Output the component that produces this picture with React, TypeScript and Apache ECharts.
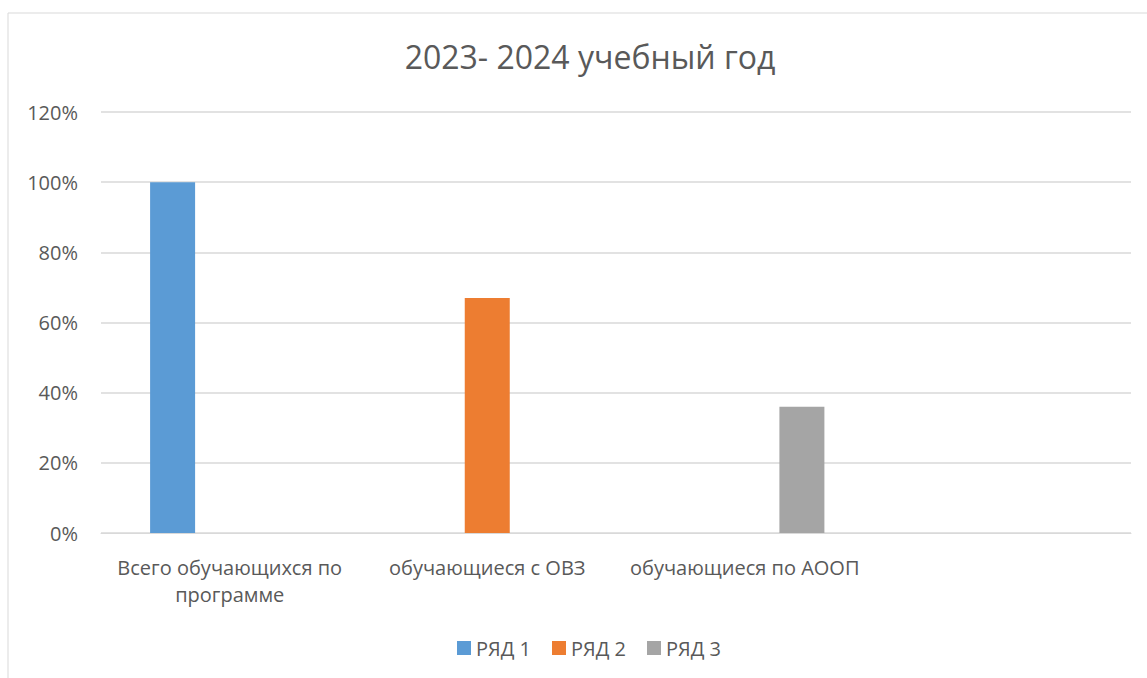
import React, { useEffect, useRef } from "react";
import * as echarts from "echarts";

const titleText = "2023- 2024 учебный год";
const categories = ["Всего обучающихся по\nпрограмме", "обучающиеся с ОВЗ", "обучающиеся по АООП", ""];
const seriesNames = ["РЯД 1", "РЯД 2", "РЯД 3"];
const series1 = [100, null, null, null];
const series2 = [null, 67, null, null];
const series3 = [null, null, 36, null];
const colors = ["#5b9bd5", "#ed7d31", "#a5a5a5"];
const yTicks = { min: 0, max: 120, interval: 20 };

const FONT = "'Open Sans', 'Noto Sans', sans-serif";

export default function App() {
  const ref = useRef<HTMLDivElement>(null);
  useEffect(() => {
    if (!ref.current) return;
    const chart = echarts.init(ref.current, null, { renderer: "svg" });
    const data = [series1, series2, series3];
    chart.setOption({
      animation: false,
      backgroundColor: "#ffffff",
      textStyle: { fontFamily: FONT },
      graphic: [
        {
          type: "rect",
          shape: { x: 8, y: 13, width: 1300, height: 800 },
          style: { fill: "none", stroke: "#d9d9d9", lineWidth: 1 },
          silent: true,
        },
      ],
      title: {
        text: titleText,
        left: 585,
        top: 35,
        textAlign: "center",
        textStyle: { fontFamily: FONT, fontSize: 32, fontWeight: "normal", color: "#595959" },
      },
      legend: {
        data: seriesNames,
        left: 452,
        top: 633,
        itemWidth: 14,
        itemHeight: 14,
        itemGap: 21,
        icon: "rect",
        textStyle: { fontFamily: FONT, fontSize: 20, color: "#595959" },
      },
      grid: { left: 101, right: 16, top: 112, bottom: 145, containLabel: false },
      xAxis: {
        type: "category",
        data: categories,
        axisLine: { lineStyle: { color: "#d9d9d9", width: 1 } },
        axisTick: { show: false },
        axisLabel: {
          interval: 0,
          margin: 21,
          color: "#595959",
          fontFamily: FONT,
          fontSize: 20,
          lineHeight: 27,
        },
      },
      yAxis: {
        type: "value",
        min: yTicks.min,
        max: yTicks.max,
        interval: yTicks.interval,
        axisLine: { show: false },
        axisTick: { show: false },
        splitLine: { lineStyle: { color: "#d9d9d9", width: 1.5 } },
        axisLabel: {
          formatter: "{value}%",
          margin: 23,
          color: "#595959",
          fontFamily: FONT,
          fontSize: 20,
        },
      },
      series: seriesNames.map((name, i) => ({
        name,
        type: "bar",
        data: data[i],
        barWidth: 45,
        barGap: "27%",
        itemStyle: { color: colors[i] },
      })),
    });
    return () => chart.dispose();
  }, []);
  return (
    <div
      ref={ref}
      style={{ position: "fixed", left: 0, top: 0, width: 1147, height: 678 }}
    />
  );
}
